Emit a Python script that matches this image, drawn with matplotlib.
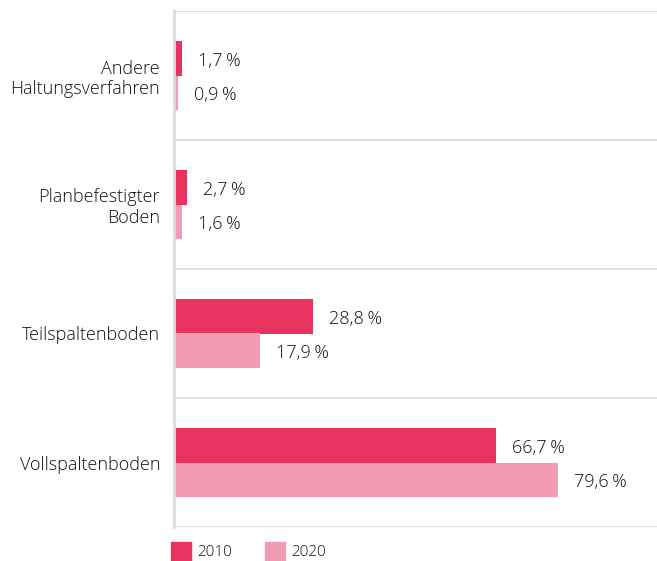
import matplotlib
matplotlib.use("Agg")
import matplotlib.pyplot as plt
import numpy as np
from matplotlib.patches import Rectangle

categories = ["Andere\nHaltungsverfahren", "Planbefestigter\nBoden", "Teilspaltenboden", "Vollspaltenboden"]
series_names = ["2010", "2020"]
values_2010 = [1.7, 2.7, 28.8, 66.7]
values_2020 = [0.9, 1.6, 17.9, 79.6]
colors = ["#E8335E", "#F29BB2"]

plt.rcParams['font.family'] = ['Open Sans', 'DejaVu Sans']
plt.rcParams['font.weight'] = 'light'

W, H = 657, 561
fig = plt.figure(figsize=(W/100, H/100), dpi=100)
ax = fig.add_axes([174/W, 1-527/H, 1-174/W, (527-11)/H])

n = len(categories)
y = np.arange(n)
bh = 0.265
ax.barh(y - bh/2, values_2010, height=bh, color=colors[0], label=series_names[0])
ax.barh(y + bh/2, values_2020, height=bh, color=colors[1], label=series_names[1])

ax.set_xlim(0, 100)
ax.set_ylim(n - 0.5, -0.5)

txtc = "#111111"
for i in range(n):
    for v, off in ((values_2010[i], -bh/2), (values_2020[i], bh/2)):
        lbl = f"{v:.1f}".replace(".", ",") + "\u2009%"
        ax.annotate(lbl, (v, y[i] + off), xytext=(11.5, -2), textcoords="offset points",
                    ha="left", va="center", fontsize=13, color=txtc)

ax.set_yticks(y)
ax.set_yticklabels(categories, fontsize=13, color=txtc, multialignment="right")
ax.tick_params(axis="y", length=0, pad=10)
ax.set_xticks([])

gc = "#dcdcdc"
for b in np.arange(-0.5, n, 1.0):
    ax.axhline(b, color=gc, lw=1.3, zorder=0)
for s in ["top", "right", "bottom"]:
    ax.spines[s].set_visible(False)
ax.spines["left"].set_color(gc)
ax.spines["left"].set_linewidth(2)

# legend
for k, (name, c) in enumerate(zip(series_names, colors)):
    x0 = 171 + k * 94
    fig.patches.append(Rectangle((x0/W, 0), 20/W, 19/H,
                                 transform=fig.transFigure, color=c))
    fig.text((x0 + 26)/W, 1-553/H, name, fontsize=11, color=txtc, va="center", ha="left")

fig.savefig("out.png", dpi=100)
